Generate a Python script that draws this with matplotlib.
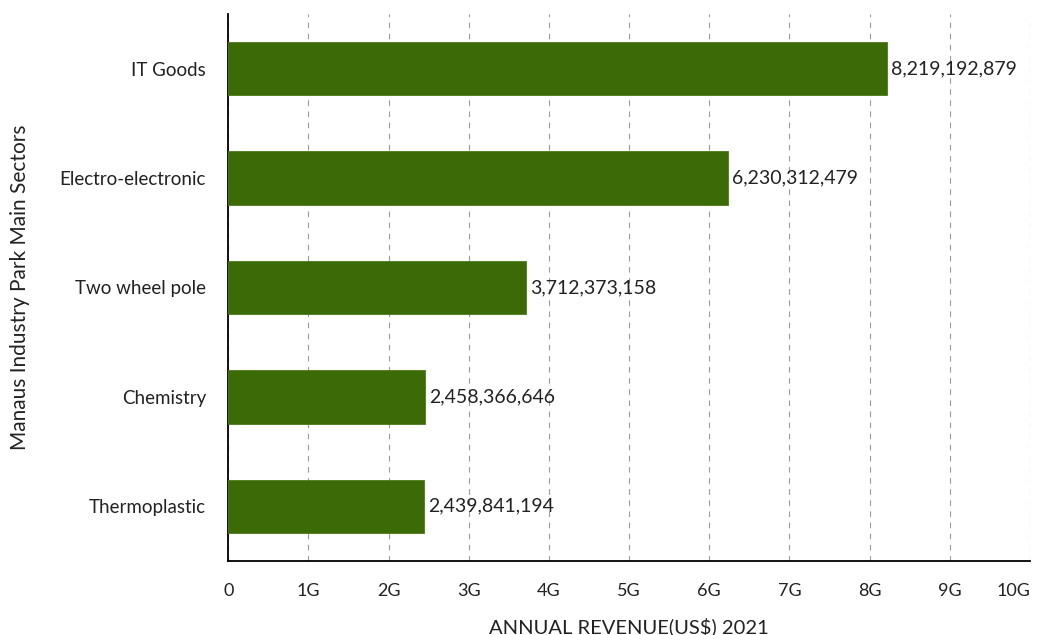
import matplotlib.pyplot as plt
from matplotlib.ticker import FuncFormatter

# sectors and 2021 revenue in US$
sectors = ["IT Goods", "Electro-electronic", "Two wheel pole", "Chemistry", "Thermoplastic"]
revenue = [8219192879, 6230312479, 3712373158, 2458366646, 2439841194]
xticks = [i * 1e9 for i in range(11)]

plt.rcParams['font.family'] = ['Lato', 'DejaVu Sans']

fig = plt.figure(figsize=(10.42, 6.35), dpi=100)
ax = fig.add_axes([0.219, 0.1165, 0.7695, 0.8615])

ypos = list(range(len(sectors)))[::-1]
ax.barh(ypos, revenue, height=0.49, color='#3b6a07', edgecolor='#4a7a1a', linewidth=0.6, zorder=3)

# value labels at the end of each bar
for y, v in zip(ypos, revenue):
    ax.text(v + 0.05e9, y, f"{v:,}", va='center', ha='left', fontsize=14, color='#222222', zorder=4)

ax.set_yticks(ypos)
ax.set_yticklabels(sectors, fontsize=13.5, color='#222222')
ax.set_ylim(-0.5, 4.5)

ax.set_xlim(0, 10e9)
ax.set_xticks(xticks)
ax.xaxis.set_major_formatter(FuncFormatter(lambda x, p: "0" if x == 0 else f"{int(round(x / 1e9))}G"))
ax.tick_params(axis='x', labelsize=13, length=0, pad=16, colors='#222222')
ax.tick_params(axis='y', length=0, pad=16)
# keep the last tick label inside the figure
ax.get_xticklabels()[-1].set_horizontalalignment('right')

ax.grid(axis='x', linestyle=(0, (5, 5)), color='#9a9a9a', linewidth=0.8, zorder=0)

ax.spines['top'].set_visible(False)
ax.spines['right'].set_visible(False)
ax.spines['left'].set_linewidth(1.3)
ax.spines['bottom'].set_linewidth(1.3)

ax.set_xlabel("ANNUAL REVENUE(US$) 2021", fontsize=14.5, color='#222222', labelpad=13)
ax.set_ylabel("Manaus Industry Park Main Sectors", fontsize=15, color='#222222')
ax.yaxis.set_label_coords(-0.247, 0.5)

fig.savefig("out.png", dpi=100)
